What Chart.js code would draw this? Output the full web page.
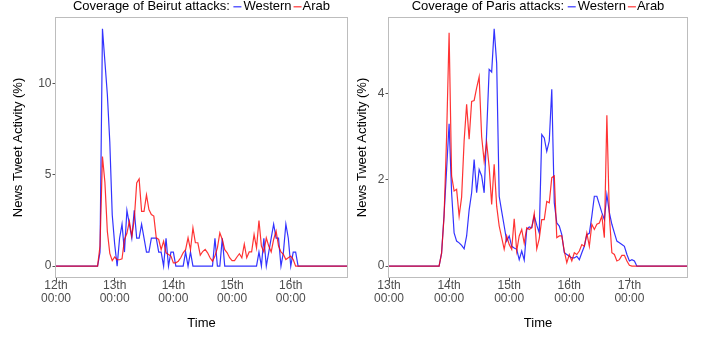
<!DOCTYPE html>
<html><head><meta charset="utf-8">
<script src="https://cdn.jsdelivr.net/npm/chart.js@4.4.1/dist/chart.umd.min.js"></script>
<style>
html,body{margin:0;padding:0;background:#fff;}
#wrap{position:relative;width:708px;height:337px;overflow:hidden;}
canvas{position:absolute;top:0;}
</style></head><body>
<div id="wrap">
<canvas id="c1" width="354" height="337" style="left:0;width:354px;height:337px"></canvas>
<canvas id="c2" width="354" height="337" style="left:354px;width:354px;height:337px"></canvas>
</div>
<script>
// ---- data (hourly, % of news tweets) ----
const beirutDays = ['12th', '13th', '14th', '15th', '16th'];
const parisDays = ['13th', '14th', '15th', '16th', '17th'];
const timeLabel = '00:00';
const beirutYTicks = [0, 5, 10];
const parisYTicks = [0, 2, 4];
const seriesNames = ['Western', 'Arab'];

const beirutWestern = [
 0,0,0,0,0,0,0,0,0,0,0,0,0,0,0,0,0,0,
 0.77,13.0,11.2,9.4,6.8,2.8,1.2,0,1.53,2.3,0.77,3.06,
 2.3,1.53,3.06,1.53,1.53,2.3,1.53,0.77,0.77,1.53,
 1.53,1.53,0.77,0.77,0,1.53,0,0.77,0.77,0,
 0,0,0,0.77,0,0.77,0,0,0,0,
 0,0,0,0,0,1.53,0,0,1.53,0,
 0,0,0,0,0,0,0,0,0,0,
 0,0,0,0.77,0,1.53,0,0.77,1.53,2.3,
 1.53,1.53,0,0.77,2.3,1.53,0,0.77,0.77,0,
 0,0,0,0,0,0,0,0,0,0,
 0,0,0,0,0,0,0,0,0,0
];
const beirutArab = [
 0,0,0,0,0,0,0,0,0,0,0,0,0,0,0,0,0,0,
 1.1,6.0,4.6,1.9,0.7,0.3,0.5,0.35,0.35,0.4,1.46,1.8,
 2.46,1.64,2.55,4.56,4.78,3.0,3.0,3.9,3.1,2.83,
 2.74,1.55,1.46,0.9,1.37,0.73,0.64,0.55,0.18,0.18,
 0.27,0.46,0.73,0.9,1.55,0.9,2.1,1.28,1.28,0.6,
 0.8,0.92,0.73,0.46,0.27,0.55,1.0,1.82,1.46,0.9,
 0.73,0.46,0.3,0.3,0.5,0.68,0.46,1.2,0.46,0.78,
 0.78,1.73,1.0,2.5,1.1,0.78,1.55,1.1,0.78,1.46,
 1.93,1.1,0.78,0.64,0.36,0.46,0.55,0.36,0,0,
 0,0,0,0,0,0,0,0,0,0,
 0,0,0,0,0,0,0,0,0,0
];
const parisWestern = [
 0,0,0,0,0,0,0,0,0,0,0,0,0,0,0,0,0,0,0,0,0,
 0.3,1.2,2.24,3.3,1.7,0.77,0.58,0.54,0.48,
 0.4,0.7,1.3,1.7,2.47,1.7,2.24,2.09,1.7,3.1,
 4.56,4.5,5.5,4.7,1.62,1.27,0.93,0.58,0.7,0.46,
 0.42,0.39,0.15,0.35,0.14,0.85,0.91,0.89,1.16,0.95,
 0.77,3.05,2.97,2.66,2.9,4.1,1.47,1.0,0.93,0.73,
 0.31,0.27,0.23,0.19,0.19,0.23,0.15,0.31,0.46,0.73,
 0.76,1.16,1.62,1.62,1.43,1.24,1.08,1.66,1.24,0.97,
 0.77,0.58,0.54,0.5,0.46,0.27,0.12,0.15,0.12,0,
 0,0,0,0,0,0,0,0,0,0,
 0,0,0,0,0,0,0,0,0,0
];
const parisArab = [
 0,0,0,0,0,0,0,0,0,0,0,0,0,0,0,0,0,0,0,0,0,
 0.3,1.16,3.0,5.41,2.09,1.74,1.78,1.16,1.6,
 2.9,3.75,2.94,3.82,3.84,4.13,4.39,3.0,2.43,2.86,
 2.3,1.43,2.36,1.39,0.93,0.66,0.39,0.7,0.5,0.39,
 1.1,0.35,0.7,0.85,0.53,0.89,0.85,0.89,1.22,0.4,
 0.64,1.08,1.08,1.5,1.47,2.05,2.09,0.66,0.7,0.7,
 0.35,0.08,0.27,0.12,0.31,0.27,0.35,0.5,0.46,0.77,
 0.46,0.97,0.85,0.97,1.0,1.16,0.66,3.5,1.16,0.31,
 0.27,0.12,0.15,0.25,0.25,0.12,0.02,0,0,0,
 0,0,0,0,0,0,0,0,0,0,
 0,0,0,0,0,0,0,0,0,0
];

const BLUE = 'rgba(0,0,255,0.8)';
const RED = 'rgba(255,0,0,0.8)';
const FONT = '"Liberation Sans", Arial, Helvetica, sans-serif';

const titleLegend = {
  id: 'titleLegend',
  afterDraw(chart, args, opts) {
    const ctx = chart.ctx, ca = chart.chartArea;
    ctx.save();
    ctx.font = '13px ' + FONT;
    ctx.textBaseline = 'middle';
    ctx.fillStyle = '#000';
    const y = 6.8;
    const keyW = 8;
    const parts = [
      {t: opts.text + ' '},
      {k: BLUE}, {gap: 2}, {t: seriesNames[0]}, {gap: 2},
      {k: RED}, {gap: 1}, {t: seriesNames[1]}
    ];
    let total = 0;
    parts.forEach(p => { p.w = p.t !== undefined ? ctx.measureText(p.t).width : (p.k ? keyW : p.gap); total += p.w; });
    let x = (ca.left + ca.right) / 2 - total / 2;
    parts.forEach(p => {
      if (p.t !== undefined) { ctx.fillStyle = '#000'; ctx.fillText(p.t, x, y); }
      else if (p.k) { ctx.strokeStyle = p.k; ctx.lineWidth = 1.2; ctx.beginPath(); ctx.moveTo(x, y); ctx.lineTo(x + keyW, y); ctx.stroke(); }
      x += p.w;
    });
    ctx.restore();
  }
};
const panelBorder = {
  id: 'panelBorder',
  afterDatasetsDraw(chart) {
    const ctx = chart.ctx, ca = chart.chartArea;
    ctx.save();
    ctx.strokeStyle = '#bdbdbd';
    ctx.lineWidth = 1;
    ctx.strokeRect(Math.round(ca.left) - 0.5, Math.round(ca.top) + 0.5, Math.round(ca.right - ca.left) + 1, Math.round(ca.bottom - ca.top) - 1);
    ctx.restore();
  }
};

function makeChart(id, cfg) {
  const all = cfg.western.concat(cfg.arab);
  const maxV = Math.max(...all);
  const toPts = arr => arr.map((v, i) => ({x: i, y: v}));
  const n = cfg.western.length;
  return new Chart(document.getElementById(id), {
    type: 'line',
    data: {
      datasets: [
        {label: seriesNames[1], data: toPts(cfg.arab), borderColor: RED, borderWidth: 1.2, pointRadius: 0, tension: 0, order: 0},
        {label: seriesNames[0], data: toPts(cfg.western), borderColor: BLUE, borderWidth: 1.2, pointRadius: 0, tension: 0, order: 1}
      ]
    },
    options: {
      responsive: false, animation: false, devicePixelRatio: 1,
      layout: {padding: {left: 0, right: cfg.padRight, top: 17, bottom: 0}},
      plugins: {legend: {display: false}, tooltip: {enabled: false}, title: {display: false},
                titleLegend: {text: cfg.title}},
      scales: {
        x: {
          type: 'linear', min: 0, max: n - 1,
          afterFit(s) { s.height = 59; },
          afterBuildTicks(s) { s.ticks = cfg.days.map((d, i) => ({value: i * 24})); },
          ticks: {
            autoSkip: false, maxRotation: 0, padding: -3, color: '#4d4d4d',
            font: {family: FONT, size: 12, lineHeight: 1.13},
            callback: (v) => [cfg.days[Math.round(v / 24)], timeLabel]
          },
          grid: {display: true, drawOnChartArea: false, tickLength: 3.5, color: '#555', tickWidth: 1},
          border: {display: false},
          title: {display: true, text: 'Time', color: '#000', font: {family: FONT, size: 13}, padding: {top: 0, bottom: 6}}
        },
        y: {
          type: 'linear', min: -0.05 * maxV, max: 1.05 * maxV,
          afterFit(s) { s.width = cfg.axisW; },
          afterBuildTicks(s) { s.ticks = cfg.yTicks.map(v => ({value: v})); },
          ticks: {padding: 1, color: '#4d4d4d', font: {family: FONT, size: 12}, callback: v => String(v)},
          grid: {display: true, drawOnChartArea: false, tickLength: 3.5, color: '#555'},
          border: {display: false},
          title: {display: true, text: 'News Tweet Activity (%)', color: '#000', font: {family: FONT, size: 13}, padding: {top: cfg.yTitlePad, bottom: 0}}
        }
      }
    },
    plugins: [titleLegend, panelBorder]
  });
}

makeChart('c1', {title: 'Coverage of Beirut attacks:', western: beirutWestern, arab: beirutArab,
  days: beirutDays, yTicks: beirutYTicks, axisW: 56, padRight: 7, yTitlePad: 11});
makeChart('c2', {title: 'Coverage of Paris attacks:', western: parisWestern, arab: parisArab,
  days: parisDays, yTicks: parisYTicks, axisW: 35, padRight: 21, yTitlePad: 1});
</script>
</body></html>
